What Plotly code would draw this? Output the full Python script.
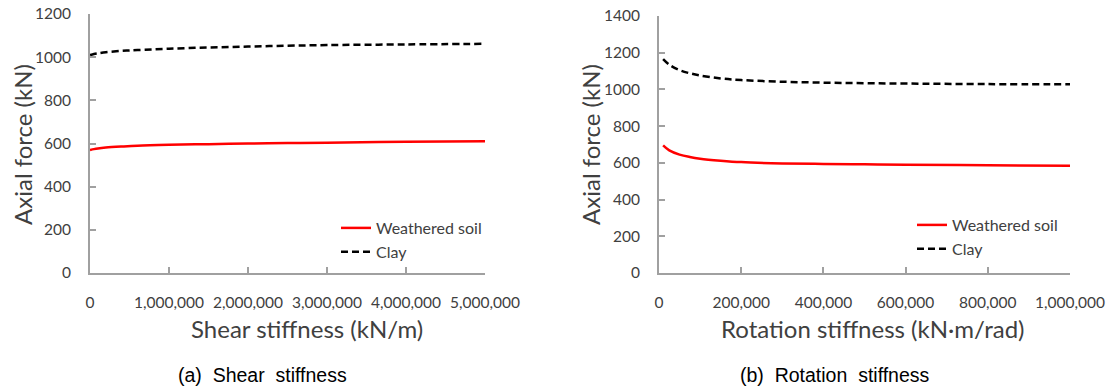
import plotly.graph_objects as go

# ---- data ----
shear_k = [0, 50000, 100000, 200000, 400000, 600000, 1000000, 1500000,
           2000000, 2500000, 3000000, 4000000, 5000000]
shear_weathered = [570, 574, 577, 581, 586, 590, 594, 597, 600, 602, 604, 608, 611]
shear_clay = [1010, 1015, 1018, 1023, 1029, 1033, 1039, 1045, 1049, 1053, 1056, 1059, 1062]

rot_k = [10000, 25000, 50000, 75000, 100000, 150000, 200000, 300000,
         400000, 500000, 600000, 800000, 1000000]
rot_weathered = [695, 668, 645, 632, 623, 612, 604, 597, 594, 592, 590, 587, 584]
rot_clay = [1165, 1135, 1105, 1088, 1076, 1060, 1051, 1042, 1037, 1034, 1032, 1029, 1028]

shear_ticks = [0, 1000000, 2000000, 3000000, 4000000, 5000000]
shear_ticklabels = ["0", "1,000,000", "2,000,000", "3,000,000", "4,000,000", "5,000,000"]
rot_ticks = [0, 200000, 400000, 600000, 800000, 1000000]
rot_ticklabels = ["0", "200,000", "400,000", "600,000", "800,000", "1,000,000"]

W, H = 1111, 389
def px(x):
    return x / W
def py(y):
    return (H - y) / H

RED = "#ff0000"
AXC = "#a0a0a0"
TXT = "#404040"
FONT = "Lato, Open Sans, sans-serif"

fig = go.Figure()
fig.add_trace(go.Scatter(x=shear_k, y=shear_weathered, name="Weathered soil", mode="lines",
                         line=dict(color=RED, width=2.5, shape="spline"),
                         xaxis="x", yaxis="y", legend="legend"))
fig.add_trace(go.Scatter(x=shear_k, y=shear_clay, name="Clay", mode="lines",
                         line=dict(color="black", width=2.5, dash="7px,4px", shape="spline"),
                         xaxis="x", yaxis="y", legend="legend"))
fig.add_trace(go.Scatter(x=rot_k, y=rot_weathered, name="Weathered soil", mode="lines",
                         line=dict(color=RED, width=2.5, shape="spline"),
                         xaxis="x2", yaxis="y2", legend="legend2"))
fig.add_trace(go.Scatter(x=rot_k, y=rot_clay, name="Clay", mode="lines",
                         line=dict(color="black", width=2.5, dash="7px,4px", shape="spline"),
                         xaxis="x2", yaxis="y2", legend="legend2"))

axis_common = dict(showgrid=False, zeroline=False, showline=True, linecolor=AXC, linewidth=2,
                   ticks="inside", ticklen=6, tickwidth=2, tickcolor=AXC, automargin=False,
                   tickfont=dict(family=FONT, size=15.5, color=TXT))

fig.update_layout(
    template="none",
    width=W, height=H, margin=dict(l=0, r=0, t=0, b=0, pad=0), autosize=False,
    paper_bgcolor="white", plot_bgcolor="white",
    font=dict(family=FONT, color=TXT),
    xaxis=dict(domain=[px(90), px(485)], range=[0, 5000000], anchor="y",
               tickvals=shear_ticks, ticktext=shear_ticklabels, ticklabelstandoff=14, **axis_common),
    yaxis=dict(domain=[py(273), py(14)], range=[0, 1200], anchor="x",
               tickvals=[0, 200, 400, 600, 800, 1000, 1200], ticklabelstandoff=14, **axis_common),
    xaxis2=dict(domain=[px(659), px(1070)], range=[0, 1000000], anchor="y2",
                tickvals=rot_ticks, ticktext=rot_ticklabels, ticklabelstandoff=14, **axis_common),
    yaxis2=dict(domain=[py(273), py(16)], range=[0, 1400], anchor="x2",
                tickvals=[0, 200, 400, 600, 800, 1000, 1200, 1400], ticklabelstandoff=14, **axis_common),
    legend=dict(x=px(336), y=py(211), xanchor="left", yanchor="top",
                bgcolor="rgba(0,0,0,0)", itemwidth=30, tracegroupgap=0,
                font=dict(family=FONT, size=16, color=TXT)),
    legend2=dict(x=px(912), y=py(208), xanchor="left", yanchor="top",
                 bgcolor="rgba(0,0,0,0)", itemwidth=30, tracegroupgap=0,
                 font=dict(family=FONT, size=16, color=TXT)),
    showlegend=True,
)

ann = [
    dict(text="Axial force (kN)", x=px(22), y=py(145), textangle=-90, size=24),
    dict(text="Axial force (kN)", x=px(590), y=py(145), textangle=-90, size=24),
    dict(text="Shear stiffness (kN/m)", x=px(307), y=py(328), textangle=0, size=24),
    dict(text="Rotation stiffness (kN·m/rad)", x=px(873), y=py(328), textangle=0, size=24),
]
for a in ann:
    fig.add_annotation(text=a["text"], x=a["x"], y=a["y"], xref="paper", yref="paper",
                       textangle=a["textangle"], showarrow=False, xanchor="center", yanchor="middle",
                       font=dict(family=FONT, size=a["size"], color=TXT))

for t, x in [("(a)  Shear  stiffness", 262), ("(b)  Rotation  stiffness", 835)]:
    fig.add_annotation(text=t, x=px(x), y=py(375), xref="paper", yref="paper", showarrow=False,
                       xanchor="center", yanchor="middle",
                       font=dict(family="Liberation Sans, Arial, sans-serif", size=19.5, color="black"))

fig.write_html("out.html", config={"displayModeBar": False},
               post_script="document.body.style.margin='0';document.body.style.overflow='hidden';")
